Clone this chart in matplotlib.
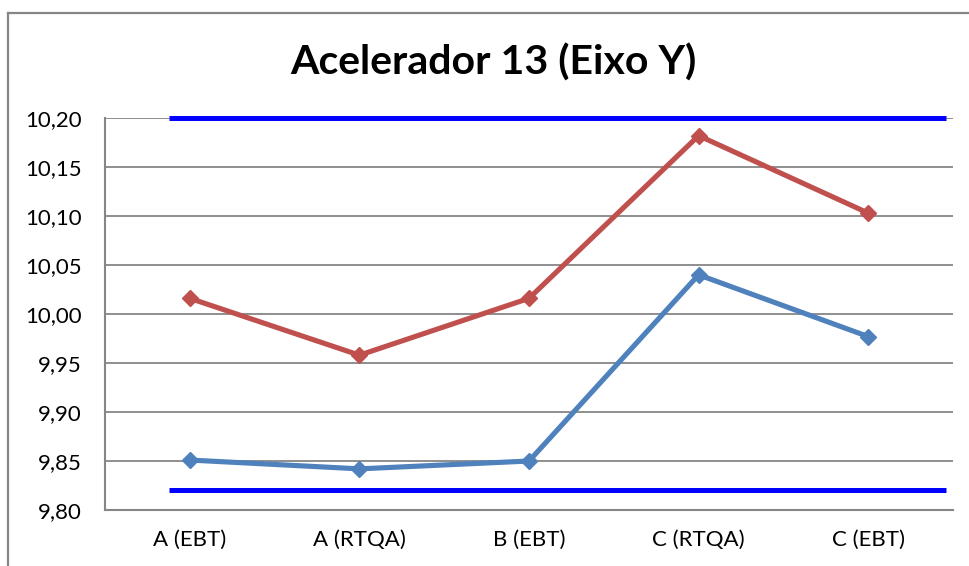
import matplotlib
matplotlib.use("Agg")
import matplotlib.pyplot as plt
from matplotlib.lines import Line2D
from matplotlib.ticker import FuncFormatter

# data
categories = ["A (EBT)", "A (RTQA)", "B (EBT)", "C (RTQA)", "C (EBT)"]
red_values = [10.016, 9.958, 10.016, 10.182, 10.103]
blue_values = [9.851, 9.842, 9.850, 10.040, 9.977]
upper_limit = 10.20
lower_limit = 9.82
yticks = [9.80, 9.85, 9.90, 9.95, 10.00, 10.05, 10.10, 10.15, 10.20]

title = "Acelerador 13 (Eixo Y)"

plt.rcParams["font.family"] = ["Lato", "DejaVu Sans"]

grid_color = "#868686"
red = "#C0504D"
blue = "#4F81BD"
limit_blue = "#0000FF"

fig = plt.figure(figsize=(9.69, 5.66), dpi=100, facecolor="white")
ax = fig.add_axes([0.1084, 0.0989, 0.8751, 0.6926])

x = list(range(len(categories)))

# limit lines (drawn a bit past the outer categories, like the original)
ax.hlines([upper_limit, lower_limit], -0.12, 4.46, color=limit_blue,
          linewidth=3.6, zorder=3, clip_on=False)

ax.plot(x, red_values, color=red, linewidth=3.7, marker="D", markersize=8,
        zorder=4, solid_capstyle="round")
ax.plot(x, blue_values, color=blue, linewidth=3.7, marker="D", markersize=8,
        zorder=4, solid_capstyle="round")

ax.set_xlim(-0.5, len(categories) - 0.5)
ax.set_ylim(yticks[0], yticks[-1])
ax.set_yticks(yticks)
ax.yaxis.set_major_formatter(FuncFormatter(lambda v, p: f"{v:.2f}".replace(".", ",")))
ax.set_xticks(x)
ax.set_xticklabels(categories)
ax.tick_params(axis="both", length=0, labelsize=16, colors="black")
ax.tick_params(axis="y", pad=17)
ax.tick_params(axis="x", pad=14)

ax.grid(True, axis="y", color=grid_color, linewidth=1.3, zorder=1)
ax.set_axisbelow(True)
ax.spines["top"].set_visible(False)
ax.spines["right"].set_visible(False)
ax.spines["left"].set_color(grid_color)
ax.spines["bottom"].set_color(grid_color)
ax.spines["left"].set_linewidth(1.5)
ax.spines["bottom"].set_linewidth(1.5)

fig.text(0.509, 0.890, title, ha="center", va="center", fontsize=29.5,
         fontweight="bold", color="black")

# outer chart frame, cut off at the right and bottom
fig.add_artist(Line2D([8 / 969, 1.0], [1 - 13 / 566, 1 - 13 / 566],
                      transform=fig.transFigure, color=grid_color, linewidth=1.6))
fig.add_artist(Line2D([8 / 969, 8 / 969], [0.0, 1 - 13 / 566],
                      transform=fig.transFigure, color=grid_color, linewidth=1.6))

fig.savefig("out.png", dpi=100, facecolor="white")
